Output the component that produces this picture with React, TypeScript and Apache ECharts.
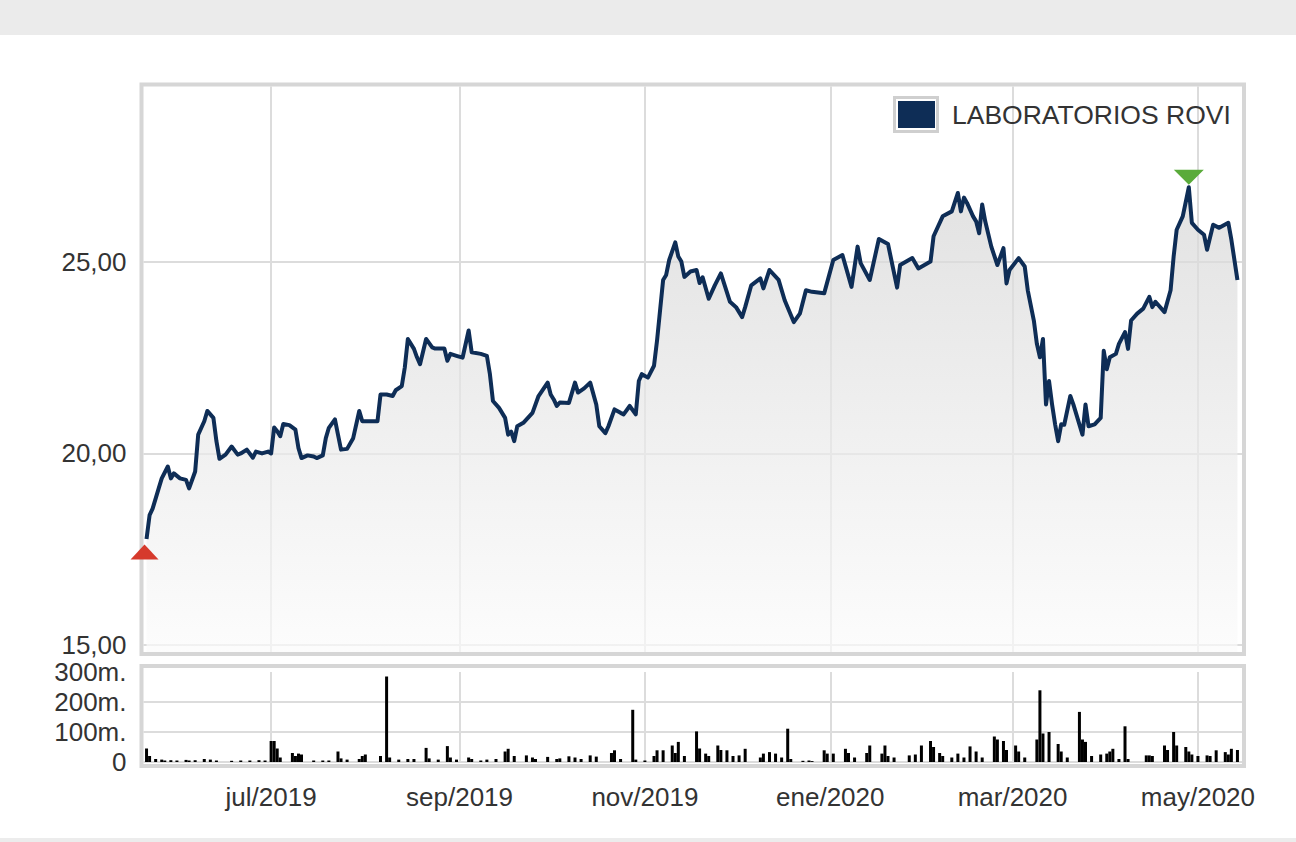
import React, { useEffect, useRef } from 'react';
import * as echarts from 'echarts';

const SERIES_NAME = 'LABORATORIOS ROVI';
const X_MIN = '2019-05-20T00:00:00';
const X_MAX = '2020-05-15T12:00:00';
const PRICE_MIN = 14.817;
const PRICE_MAX = 29.58;

const monthNames = ['ene', 'feb', 'mar', 'abr', 'may', 'jun', 'jul', 'ago', 'sep', 'oct', 'nov', 'dic'];
const monthTicks = ['2019-07-01', '2019-09-01', '2019-11-01', '2020-01-01', '2020-03-01', '2020-05-01'];
const priceTicks = [15, 20, 25];
const volumeLabelTicks = [0, 100, 200, 300];
const volumeLineTicks = [0, 100, 200];

const priceDates = [
  '2019-05-21', '2019-05-22', '2019-05-23', '2019-05-25', '2019-05-26', '2019-05-28', '2019-05-29', '2019-05-30', '2019-06-01', '2019-06-03',
  '2019-06-04', '2019-06-06', '2019-06-07', '2019-06-09', '2019-06-10', '2019-06-12', '2019-06-13', '2019-06-14', '2019-06-16', '2019-06-18',
  '2019-06-20', '2019-06-21', '2019-06-23', '2019-06-25', '2019-06-26', '2019-06-28', '2019-06-30', '2019-07-01', '2019-07-02', '2019-07-03',
  '2019-07-04', '2019-07-05', '2019-07-07', '2019-07-09', '2019-07-10', '2019-07-11', '2019-07-13', '2019-07-15', '2019-07-16', '2019-07-18',
  '2019-07-19', '2019-07-20', '2019-07-22', '2019-07-23', '2019-07-24', '2019-07-26', '2019-07-28', '2019-07-30', '2019-07-31', '2019-08-02',
  '2019-08-05', '2019-08-06', '2019-08-08', '2019-08-10', '2019-08-11', '2019-08-13', '2019-08-14', '2019-08-15', '2019-08-17', '2019-08-18',
  '2019-08-19', '2019-08-21', '2019-08-23', '2019-08-24', '2019-08-27', '2019-08-28', '2019-08-29', '2019-08-31', '2019-09-02', '2019-09-04',
  '2019-09-05', '2019-09-08', '2019-09-10', '2019-09-11', '2019-09-12', '2019-09-14', '2019-09-16', '2019-09-17', '2019-09-18', '2019-09-19',
  '2019-09-20', '2019-09-22', '2019-09-25', '2019-09-27', '2019-09-30', '2019-10-01', '2019-10-02', '2019-10-03', '2019-10-04', '2019-10-07',
  '2019-10-09', '2019-10-10', '2019-10-12', '2019-10-14', '2019-10-16', '2019-10-17', '2019-10-19', '2019-10-20', '2019-10-22', '2019-10-24',
  '2019-10-25', '2019-10-27', '2019-10-29', '2019-10-30', '2019-10-31', '2019-11-02', '2019-11-04', '2019-11-05', '2019-11-06', '2019-11-07',
  '2019-11-08', '2019-11-09', '2019-11-11', '2019-11-12', '2019-11-13', '2019-11-14', '2019-11-16', '2019-11-18', '2019-11-19', '2019-11-20',
  '2019-11-22', '2019-11-24', '2019-11-26', '2019-11-29', '2019-12-01', '2019-12-03', '2019-12-04', '2019-12-06', '2019-12-09', '2019-12-10',
  '2019-12-12', '2019-12-15', '2019-12-17', '2019-12-20', '2019-12-22', '2019-12-24', '2019-12-26', '2019-12-30', '2020-01-02', '2020-01-05',
  '2020-01-08', '2020-01-10', '2020-01-11', '2020-01-14', '2020-01-17', '2020-01-20', '2020-01-23', '2020-01-24', '2020-01-28', '2020-01-30',
  '2020-02-03', '2020-02-04', '2020-02-07', '2020-02-10', '2020-02-12', '2020-02-13', '2020-02-14', '2020-02-15', '2020-02-17', '2020-02-18',
  '2020-02-19', '2020-02-20', '2020-02-21', '2020-02-23', '2020-02-25', '2020-02-26', '2020-02-27', '2020-02-28', '2020-02-29', '2020-03-03',
  '2020-03-05', '2020-03-06', '2020-03-08', '2020-03-09', '2020-03-10', '2020-03-11', '2020-03-12', '2020-03-13', '2020-03-14', '2020-03-15',
  '2020-03-16', '2020-03-17', '2020-03-18', '2020-03-20', '2020-03-21', '2020-03-24', '2020-03-25', '2020-03-26', '2020-03-28', '2020-03-30',
  '2020-03-31', '2020-04-01', '2020-04-02', '2020-04-04', '2020-04-05', '2020-04-07', '2020-04-08', '2020-04-09', '2020-04-11', '2020-04-13',
  '2020-04-15', '2020-04-16', '2020-04-17', '2020-04-20', '2020-04-22', '2020-04-23', '2020-04-24', '2020-04-26', '2020-04-28', '2020-04-29',
  '2020-05-01', '2020-05-03', '2020-05-04', '2020-05-06', '2020-05-08', '2020-05-11', '2020-05-12', '2020-05-14',
];

const priceValues = [
  17.77, 18.39, 18.56, 19.09, 19.35, 19.66, 19.35, 19.48, 19.35, 19.31,
  19.09, 19.53, 20.49, 20.84, 21.11, 20.93, 20.32, 19.86, 19.97, 20.18,
  19.97, 20.0, 20.1, 19.89, 20.05, 20.0, 20.05, 20.0, 20.68, 20.58,
  20.45, 20.77, 20.74, 20.62, 20.14, 19.88, 19.95, 19.92, 19.88, 19.95,
  20.4, 20.67, 20.89, 20.49, 20.1, 20.12, 20.4, 21.11, 20.84, 20.84,
  20.84, 21.54, 21.54, 21.5, 21.65, 21.76, 22.25, 22.99, 22.73, 22.51,
  22.33, 22.99, 22.77, 22.74, 22.74, 22.42, 22.6, 22.55, 22.5, 23.21,
  22.64, 22.6, 22.55, 22.07, 21.37, 21.19, 20.93, 20.49, 20.57, 20.32,
  20.71, 20.8, 21.06, 21.5, 21.85, 21.54, 21.41, 21.24, 21.33, 21.32,
  21.85, 21.59, 21.7, 21.85, 21.28, 20.71, 20.53, 20.71, 21.15, 21.06,
  21.02, 21.24, 21.02, 21.89, 22.07, 21.98, 22.29, 22.95, 23.74, 24.53,
  24.66, 25.05, 25.51, 25.14, 25.01, 24.61, 24.75, 24.79, 24.45, 24.6,
  24.04, 24.39, 24.7, 23.96, 23.82, 23.56, 23.82, 24.39, 24.57, 24.31,
  24.79, 24.53, 24.0, 23.43, 23.65, 24.26, 24.22, 24.18, 25.05, 25.18,
  24.35, 25.4, 24.97, 24.53, 25.6, 25.47, 24.33, 24.92, 25.1, 24.83,
  25.01, 25.67, 26.19, 26.32, 26.8, 26.32, 26.68, 26.54, 26.19, 26.06,
  25.75, 26.5, 26.06, 25.4, 24.92, 25.14, 25.36, 24.44, 24.79, 25.1,
  24.88, 24.26, 23.47, 22.86, 22.51, 22.99, 21.28, 21.89, 21.28, 20.76,
  20.32, 20.76, 20.75, 21.5, 21.28, 20.49, 21.28, 20.71, 20.76, 20.93,
  22.68, 22.2, 22.51, 22.6, 22.86, 23.17, 22.73, 23.47, 23.65, 23.78,
  24.09, 23.82, 23.96, 23.69, 24.26, 25.14, 25.84, 26.19, 26.95, 26.02,
  25.84, 25.71, 25.32, 25.97, 25.89, 26.02, 25.58, 24.53,
];

// volume in thousands of shares ("m.")
const volumeDates = [
  '2019-05-21', '2019-05-22', '2019-05-24', '2019-05-26', '2019-05-27', '2019-05-29', '2019-05-31', '2019-06-03', '2019-06-04', '2019-06-06',
  '2019-06-09', '2019-06-11', '2019-06-13', '2019-06-18', '2019-06-21', '2019-06-24', '2019-06-27', '2019-06-29', '2019-07-01', '2019-07-02',
  '2019-07-03', '2019-07-04', '2019-07-08', '2019-07-09', '2019-07-10', '2019-07-11', '2019-07-15', '2019-07-18', '2019-07-20', '2019-07-23',
  '2019-07-24', '2019-07-26', '2019-07-30', '2019-07-31', '2019-08-01', '2019-08-06', '2019-08-08', '2019-08-09', '2019-08-12', '2019-08-15',
  '2019-08-17', '2019-08-21', '2019-08-22', '2019-08-25', '2019-08-28', '2019-08-29', '2019-08-31', '2019-09-04', '2019-09-05', '2019-09-08',
  '2019-09-10', '2019-09-13', '2019-09-16', '2019-09-17', '2019-09-19', '2019-09-23', '2019-09-25', '2019-09-26', '2019-09-30', '2019-10-03',
  '2019-10-04', '2019-10-07', '2019-10-09', '2019-10-11', '2019-10-14', '2019-10-16', '2019-10-21', '2019-10-22', '2019-10-24', '2019-10-28',
  '2019-10-29', '2019-11-01', '2019-11-04', '2019-11-05', '2019-11-07', '2019-11-10', '2019-11-11', '2019-11-12', '2019-11-14', '2019-11-18',
  '2019-11-19', '2019-11-21', '2019-11-22', '2019-11-25', '2019-11-26', '2019-11-28', '2019-11-30', '2019-12-02', '2019-12-04', '2019-12-09',
  '2019-12-10', '2019-12-12', '2019-12-14', '2019-12-16', '2019-12-18', '2019-12-19', '2019-12-23', '2019-12-25', '2019-12-26', '2019-12-30',
  '2019-12-31', '2020-01-02', '2020-01-06', '2020-01-07', '2020-01-09', '2020-01-13', '2020-01-14', '2020-01-18', '2020-01-19', '2020-01-20',
  '2020-01-22', '2020-01-27', '2020-01-29', '2020-01-31', '2020-02-03', '2020-02-04', '2020-02-06', '2020-02-07', '2020-02-10', '2020-02-12',
  '2020-02-14', '2020-02-16', '2020-02-18', '2020-02-20', '2020-02-24', '2020-02-25', '2020-02-27', '2020-02-28', '2020-03-02', '2020-03-03',
  '2020-03-05', '2020-03-09', '2020-03-10', '2020-03-11', '2020-03-13', '2020-03-16', '2020-03-17', '2020-03-19', '2020-03-23', '2020-03-24',
  '2020-03-25', '2020-03-27', '2020-03-30', '2020-04-01', '2020-04-02', '2020-04-03', '2020-04-05', '2020-04-07', '2020-04-08', '2020-04-14',
  '2020-04-15', '2020-04-16', '2020-04-20', '2020-04-21', '2020-04-23', '2020-04-24', '2020-04-27', '2020-04-28', '2020-04-29', '2020-05-01',
  '2020-05-04', '2020-05-05', '2020-05-07', '2020-05-10', '2020-05-11', '2020-05-12', '2020-05-14',
];

const volumeValues = [
  45, 20, 10, 8, 5, 6, 5, 7, 5, 6,
  10, 8, 5, 4, 5, 5, 6, 5, 70, 70,
  45, 15, 30, 20, 28, 25, 5, 5, 5, 35,
  12, 8, 10, 20, 25, 20, 285, 15, 8, 10,
  10, 47, 12, 8, 53, 15, 8, 15, 10, 5,
  8, 10, 35, 44, 20, 22, 15, 10, 17, 10,
  12, 19, 15, 10, 22, 18, 30, 39, 10, 174,
  8, 5, 20, 39, 39, 55, 30, 67, 20, 102,
  45, 28, 20, 55, 40, 39, 20, 22, 44, 15,
  28, 33, 28, 15, 111, 10, 4, 5, 3, 39,
  28, 28, 44, 30, 15, 30, 55, 28, 55, 20,
  15, 22, 25, 55, 70, 50, 30, 20, 15, 28,
  15, 52, 35, 15, 85, 75, 70, 40, 55, 35,
  15, 75, 239, 95, 100, 60, 35, 15, 167, 75,
  67, 20, 25, 28, 35, 44, 10, 119, 10, 22,
  22, 20, 55, 40, 100, 55, 50, 35, 25, 20,
  22, 20, 39, 33, 25, 44, 40,
];

const FONT = "'Liberation Sans', Arial, Helvetica, sans-serif";
const TEXT_COLOR = '#333333';
const LINE_COLOR = '#0e2d56';

// local-time timestamp of a date string
const ts = (s: string) => new Date(s.length <= 10 ? `${s}T00:00:00` : s).getTime();

export default function App() {
  const ref = useRef<HTMLDivElement>(null);

  useEffect(() => {
    const el = ref.current;
    if (!el) return;
    const chart = echarts.init(el, null, { renderer: 'svg' });

    const priceData = priceDates.map((d, i) => [ts(d), priceValues[i]]);
    const volumeData = volumeDates.map((d, i) => [ts(d), volumeValues[i]]);
    const monthTickValues = monthTicks.map(ts);
    const xMin = ts(X_MIN);
    const xMax = ts(X_MAX);

    const fmtMonth = (v: number) => {
      const dt = new Date(v);
      return `${monthNames[dt.getMonth()]}/${dt.getFullYear()}`;
    };
    const fmtPrice = (v: number) => {
      if (Math.abs(v / 5 - Math.round(v / 5)) > 1e-6) return '';
      return v.toFixed(2).replace('.', ',');
    };
    const fmtVol = (v: number) => (v === 0 ? '0' : `${v}m.`);

    const splitStyle = { color: '#dcdcdc', width: 2 };
    const labelStyle = {
      fontSize: 26, lineHeight: 26, color: TEXT_COLOR, fontFamily: FONT,
      showMinLabel: true, showMaxLabel: true, hideOverlap: false,
    };
    const frameStyle = { fill: 'none', stroke: '#d6d6d6', lineWidth: 4 };

    chart.setOption({
      animation: false,
      backgroundColor: '#ffffff',
      textStyle: { fontFamily: FONT },
      graphic: [
        { type: 'rect', silent: true, z: 0, shape: { x: 0, y: 0, width: 1296, height: 35 }, style: { fill: '#ebebeb' } },
        { type: 'rect', silent: true, z: 0, shape: { x: 0, y: 838, width: 1296, height: 4 }, style: { fill: '#ececec' } },
        { type: 'rect', silent: true, z: 3, shape: { x: 141.5, y: 84.5, width: 1102.5, height: 569.5 }, style: frameStyle },
        { type: 'rect', silent: true, z: 3, shape: { x: 141.5, y: 666, width: 1102.5, height: 100 }, style: frameStyle },
        { type: 'rect', silent: true, z: 20, shape: { x: 894.5, y: 97.5, width: 43, height: 34 }, style: { fill: '#ffffff', stroke: '#cfcfcf', lineWidth: 3 } },
      ],
      legend: {
        data: [SERIES_NAME],
        left: 893,
        top: 96,
        z: 50,
        icon: 'rect',
        itemWidth: 37,
        itemHeight: 27,
        selectedMode: false,
        itemStyle: { color: LINE_COLOR, borderWidth: 0 },
        textStyle: { fontSize: 26.5, color: TEXT_COLOR, fontFamily: FONT, padding: [0, 0, 0, 12] },
      },
      grid: [
        { left: 143.5, top: 86.5, width: 1098.5, height: 565.5 },
        { left: 143.5, top: 672, width: 1098.5, height: 90 },
      ],
      xAxis: [
        {
          type: 'value', gridIndex: 0, min: xMin, max: xMax,
          axisLine: { show: false },
          axisTick: { show: false, customValues: monthTickValues },
          axisLabel: { show: false, customValues: monthTickValues },
          splitLine: { show: true, lineStyle: splitStyle, showMinLine: true, showMaxLine: true },
        },
        {
          type: 'value', gridIndex: 1, min: xMin, max: xMax,
          axisLine: { show: false },
          axisTick: { show: false, customValues: monthTickValues },
          axisLabel: { ...labelStyle, customValues: monthTickValues, formatter: fmtMonth, margin: 22 },
          splitLine: { show: true, lineStyle: splitStyle, showMinLine: true, showMaxLine: true },
        },
      ],
      yAxis: [
        {
          type: 'value', gridIndex: 0, min: PRICE_MIN, max: PRICE_MAX, minInterval: 5, maxInterval: 5,
          axisLine: { show: false },
          axisTick: { show: false, customValues: priceTicks },
          axisLabel: { ...labelStyle, customValues: priceTicks, formatter: fmtPrice, margin: 17, padding: [0, 0, 6, 0] },
          splitLine: { show: true, lineStyle: splitStyle, showMinLine: true, showMaxLine: true },
        },
        {
          type: 'value', gridIndex: 1, min: 0, max: 300, minInterval: 100, maxInterval: 100,
          axisLine: { show: false },
          axisTick: { show: false, customValues: volumeLineTicks },
          axisLabel: { ...labelStyle, lineHeight: 24, customValues: volumeLabelTicks, formatter: fmtVol, margin: 17, padding: [5, 0, 0, 0] },
          splitLine: { show: true, lineStyle: splitStyle, showMinLine: true, showMaxLine: true },
        },
      ],
      series: [
        {
          type: 'line',
          name: SERIES_NAME,
          xAxisIndex: 0,
          yAxisIndex: 0,
          data: priceData,
          showSymbol: false,
          symbol: 'none',
          smooth: false,
          z: 2,
          lineStyle: { color: LINE_COLOR, width: 4, join: 'round' },
          itemStyle: { color: LINE_COLOR },
          areaStyle: {
            color: new echarts.graphic.LinearGradient(0, 0, 0, 1, [
              { offset: 0, color: '#d6d6d6' },
              { offset: 1, color: '#fbfbfb' },
            ]),
          },
          markPoint: {
            label: { show: false },
            silent: true,
            data: [
              { type: 'min', symbol: 'triangle', symbolSize: [28, 15], symbolOffset: [-2, 13], itemStyle: { color: '#d63a2c' } },
              { type: 'max', symbol: 'triangle', symbolRotate: 180, symbolSize: [30, 15], symbolOffset: [0, -10], itemStyle: { color: '#5aab3a' } },
            ],
          },
        },
        {
          type: 'bar',
          name: 'Volumen',
          xAxisIndex: 1,
          yAxisIndex: 1,
          data: volumeData,
          barWidth: 3,
          itemStyle: { color: '#000000' },
        },
      ],
    });

    return () => {
      chart.dispose();
    };
  }, []);

  return (
    <div
      ref={ref}
      style={{ position: 'fixed', left: 0, top: 0, width: 1296, height: 842, background: '#ffffff' }}
    />
  );
}
